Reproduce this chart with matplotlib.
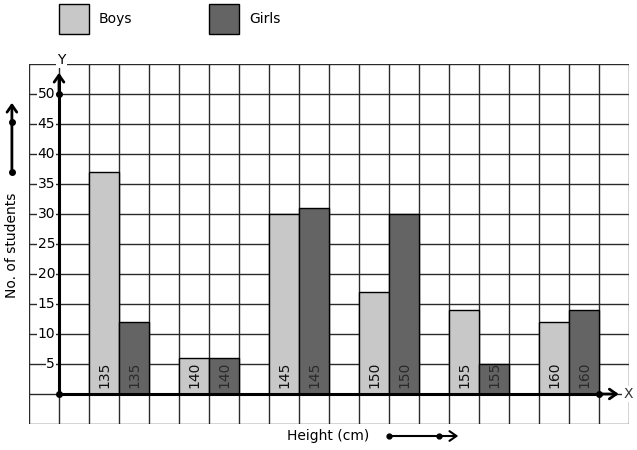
import matplotlib
matplotlib.use('Agg')
import matplotlib.pyplot as plt
from matplotlib.patches import Rectangle, FancyArrowPatch

heights = [135, 140, 145, 150, 155, 160]
boys = [37, 6, 30, 17, 14, 12]
girls = [12, 6, 31, 30, 5, 14]
y_ticks = [5, 10, 15, 20, 25, 30, 35, 40, 45, 50]

boys_color = '#c8c8c8'
girls_color = '#646464'

W, H = 637, 450
fig = plt.figure(figsize=(W / 100, H / 100), dpi=100)
# one grid cell = 30 px; x in cells, y in students (5 per cell)
ax = fig.add_axes([29 / W, (H - 424) / H, 600 / W, 360 / H])
ax.set_xlim(-1, 19)
ax.set_ylim(-5, 55)
for s in ax.spines.values():
    s.set_visible(False)
ax.set_xticks(range(-1, 20))
ax.set_yticks(range(-5, 56, 5))
ax.tick_params(length=0, labelbottom=False, labelleft=False)
ax.grid(True, color='#2a2a2a', linewidth=1.0)
ax.set_axisbelow(True)

# bars
bx = [1 + 3 * i for i in range(len(heights))]
gx = [2 + 3 * i for i in range(len(heights))]
ax.bar(bx, boys, width=1, align='edge', color=boys_color, edgecolor='black', linewidth=1, zorder=3)
ax.bar(gx, girls, width=1, align='edge', color=girls_color, edgecolor='black', linewidth=1, zorder=3)
for i, h in enumerate(heights):
    ax.text(bx[i] + 0.5, 1, str(h), rotation=90, ha='center', va='bottom', fontsize=10, color='#111111', zorder=4)
    ax.text(gx[i] + 0.5, 1, str(h), rotation=90, ha='center', va='bottom', fontsize=10, color='#2a2a2a', zorder=4)

# axes lines
arrow = '->,head_length=5,head_width=3.5'
ax.plot([0, 0], [0, 53], color='black', linewidth=2.2, zorder=5, clip_on=False)
ax.plot([0, 18], [0, 0], color='black', linewidth=2.2, zorder=5, clip_on=False)
ax.add_patch(FancyArrowPatch((0, 50), (0, 54), arrowstyle=arrow,
                             color='black', linewidth=2, zorder=5, clip_on=False))
ax.add_patch(FancyArrowPatch((18, 0), (18.75, 0), arrowstyle=arrow,
                             color='black', linewidth=2, zorder=5, clip_on=False))
ax.plot([0, 0, 18], [0, 50, 0], 'o', color='black', markersize=4, zorder=6, clip_on=False)
ax.text(0.07, 55.7, 'Y', ha='center', va='center', fontsize=10, zorder=6,
        bbox=dict(facecolor='white', edgecolor='none', pad=1))
ax.text(18.97, 0, 'X', ha='center', va='center', fontsize=10, color='#333333', zorder=6,
        bbox=dict(facecolor='white', edgecolor='none', pad=1))

for t in y_ticks:
    ax.text(-0.13, t, str(t), ha='right', va='center', fontsize=10, zorder=6,
            bbox=dict(facecolor='white', edgecolor='none', pad=0.5))

# legend
ax.add_patch(Rectangle((0, 60), 1, 5, facecolor=boys_color, edgecolor='black', linewidth=1, clip_on=False))
ax.add_patch(Rectangle((5, 60), 1, 5, facecolor=girls_color, edgecolor='black', linewidth=1, clip_on=False))
ax.text(1.33, 62.5, 'Boys', ha='left', va='center', fontsize=10, clip_on=False)
ax.text(6.33, 62.5, 'Girls', ha='left', va='center', fontsize=10, clip_on=False)

# y label with arrow
ax.text(-1.57, 24.8, 'No. of students', rotation=90, ha='center', va='center', fontsize=10, clip_on=False)
ax.add_patch(FancyArrowPatch((-1.57, 37), (-1.57, 49), arrowstyle=arrow,
                             color='black', linewidth=2, clip_on=False))
ax.plot([-1.57, -1.57], [37, 45.33], 'o', color='black', markersize=4, clip_on=False)

# x label with arrow
ax.text(8.97, -7, 'Height (cm)', ha='center', va='center', fontsize=10, clip_on=False)
ax.add_patch(FancyArrowPatch((11, -7), (13.4, -7), arrowstyle=arrow,
                             color='black', linewidth=1.5, clip_on=False))
ax.plot([11, 12.67], [-7, -7], 'o', color='black', markersize=3.5, clip_on=False)

fig.savefig('out.png', dpi=100)
